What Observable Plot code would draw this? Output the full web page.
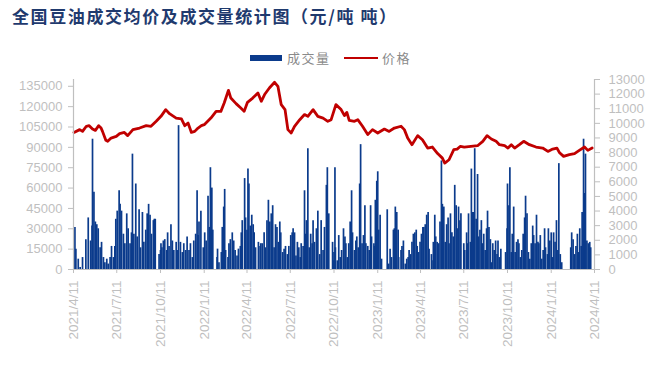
<!DOCTYPE html>
<html><head><meta charset="utf-8">
<script src="https://cdn.jsdelivr.net/npm/d3@7"></script>
<script src="https://cdn.jsdelivr.net/npm/@observablehq/plot@0.6"></script>
<style>
body{margin:0;background:#fff;}
#wrap{position:relative;width:649px;height:369px;overflow:hidden;background:#fff;}
#title{position:absolute;left:12px;top:5px;font-family:"Noto Sans CJK SC";font-weight:bold;font-size:17px;line-height:22px;color:#1f3a6e;letter-spacing:1.6px;white-space:nowrap;}
.lt{position:absolute;top:49px;font-family:"Noto Sans CJK SC";font-size:13px;line-height:18px;color:#8a8a8a;letter-spacing:1.5px;white-space:nowrap;}
.sw{position:absolute;}
#chart{position:absolute;left:0;top:0;}
</style></head>
<body><div id="wrap">
<div id="chart"></div>
<div id="title">全国豆油成交均价及成交量统计图（元/吨 吨）</div>
<div class="sw" style="left:250px;top:55px;width:32px;height:6px;background:#0b3b8c"></div>
<div class="lt" style="left:287px">成交量</div>
<div class="sw" style="left:344px;top:57px;width:34px;height:2px;background:#c00000"></div>
<div class="lt" style="left:382px">价格</div>
</div>
<script>
// ---- data ----
const xTickLabels = ["2021/4/11","2021/7/11","2021/10/11","2022/1/11","2022/4/11","2022/7/11","2022/10/11","2023/1/11","2023/4/11","2023/7/11","2023/10/11","2024/1/11","2024/4/11"];
const volumeTicks = [0,15000,30000,45000,60000,75000,90000,105000,120000,135000];
const priceTicks = [0,1000,2000,3000,4000,5000,6000,7000,8000,9000,10000,11000,12000,13000];

const priceDates = ["210412","210424","210430","210508","210514","210521","210527","210603","210608","210611","210618","210622","210629","210710","210717","210727","210803","210814","210828","210911","210921","211002","211012","211022","211030","211113","211124","211201","211208","211215","211222","211229","220105","220111","220125","220205","220215","220222","220303","220308","220319","220329","220405","220412","220423","220504","220511","220518","220528","220608","220615","220622","220630","220706","220713","220720","220731","220810","220817","220828","220907","220918","220928","221005","221015","221026","221102","221107","221112","221123","221130","221210","221221","221231","230111","230125","230204","230215","230301","230308","230315","230324","230405","230415","230426","230506","230517","230527","230601","230610","230620","230627","230704","230712","230726","230809","230820","230829","230907","230917","230924","231005","231012","231019","231026","231105","231114","231126","231210","231224","240104","240114","240123","240128","240206","240218","240229","240310","240321","240328","240406"];
const prices = [9380,9570,9450,9800,9840,9610,9520,9840,9680,9450,8840,8770,8990,9110,9300,9380,9160,9570,9680,9840,9800,10140,10480,10940,10660,10360,10300,9840,10020,9380,9450,9680,9840,9910,10360,10820,10820,11390,12260,11730,11350,11050,10820,11440,11730,12080,11510,11970,12420,12810,12530,11280,10940,9570,9340,9800,10250,10600,10480,10940,10480,10360,10140,10250,11280,10940,10530,10750,10200,10140,10250,9800,9230,9570,9340,9610,9450,9680,9800,9570,8990,8540,9160,8880,8310,8380,7930,7620,7280,7510,8200,8240,8430,8380,8430,8470,8770,9160,8930,8770,8540,8470,8310,8540,8310,8540,8770,8540,8380,8310,8080,8240,8310,8010,7740,7860,7930,8150,8380,8150,8310];

const volumeDates = ["210414","210416","210421","210425","210430","210507","210512","210517","210520","210521","210524","210527","210530","210602","210606","210609","210613","210616","210620","210623","210627","210630","210704","210707","210709","210712","210716","210718","210721","210725","210728","210801","210804","210808","210811","210813","210816","210820","210823","210827","210830","210903","210906","210910","210913","210916","210919","210922","210926","210928","210930","211008","211011","211012","211014","211017","211020","211024","211026","211029","211102","211105","211108","211113","211115","211118","211122","211126","211129","211203","211206","211210","211213","211217","211220","211224","211227","211229","211231","220104","220109","220112","220115","220119","220122","220124","220127","220129","220207","220208","220211","220216","220218","220221","220223","220225","220302","220304","220307","220311","220314","220317","220321","220324","220328","220330","220401","220406","220408","220411","220413","220415","220418","220421","220424","220426","220429","220505","220506","220510","220513","220517","220520","220523","220526","220529","220601","220604","220607","220610","220613","220616","220619","220621","220625","220628","220701","220705","220708","220712","220715","220717","220720","220723","220726","220729","220801","220803","220807","220810","220812","220814","220817","220820","220823","220826","220828","220831","220904","220907","220911","220914","220918","220921","220925","220927","220930","221008","221010","221011","221013","221014","221018","221021","221024","221027","221031","221103","221105","221108","221111","221114","221117","221119","221123","221126","221128","221201","221204","221206","221209","221212","221215","221217","221221","221224","221227","221229","230103","230104","230106","230109","230111","230113","230116","230119","230131","230203","230206","230209","230213","230215","230217","230220","230223","230224","230301","230303","230306","230310","230313","230316","230318","230321","230324","230327","230330","230402","230404","230407","230410","230413","230416","230418","230421","230424","230427","230429","230504","230505","230508","230511","230513","230516","230519","230522","230525","230527","230530","230602","230605","230608","230610","230613","230616","230619","230622","230625","230627","230630","230703","230705","230711","230713","230717","230719","230721","230725","230727","230729","230801","230803","230806","230809","230811","230814","230817","230819","230822","230825","230828","230830","230902","230905","230908","230910","230913","230916","230919","230921","230924","230927","231007","231010","231011","231014","231016","231019","231021","231024","231027","231030","231102","231104","231107","231110","231113","231116","231118","231121","231124","231127","231130","231203","231205","231208","231211","231214","231216","231219","231222","231225","231228","231230","240103","240105","240108","240111","240113","240116","240119","240122","240125","240127","240130","240202","240221","240223","240226","240229","240303","240306","240308","240311","240314","240316","240319","240321","240323","240326","240329","240401","240403"];
const volumes = [31000,15000,7600,1500,8800,22000,38000,21000,32000,96000,57000,35000,33000,30000,16000,20000,8800,5000,7600,4000,8800,17000,8800,17000,37000,43000,58000,48000,43000,26000,19000,41000,30000,19000,27000,85000,26000,63000,24000,44000,16000,42000,20000,29000,41000,48000,40000,26000,36000,37000,37000,11000,14000,19000,16000,21000,22000,14000,27000,17000,33000,21000,14000,20000,14000,106000,20000,12500,19000,14000,24000,14000,19000,8800,21000,26000,58000,25000,35000,43000,16000,27000,21000,54000,31000,75000,60000,29000,8800,15000,5000,12500,31000,46000,59000,14000,8800,19000,22000,27000,21000,14000,10000,15000,17000,27000,36000,67000,38000,29000,74000,63000,32000,40000,33000,27000,16000,20000,17000,19000,19000,27000,16000,36000,51000,35000,41000,47000,16000,33000,31000,20000,35000,27000,12500,15000,17000,11000,17000,25000,27000,30000,27000,10000,20000,16000,8800,19000,17000,58000,26000,36000,89000,16000,26000,19000,36000,20000,30000,43000,11000,36000,14000,31000,62000,75000,41000,20000,6400,12500,75000,16000,6400,25000,8800,14000,30000,24000,19000,8800,19000,35000,58000,27000,14000,21000,24000,16000,63000,92000,19000,25000,47000,19000,17000,14000,47000,24000,19000,17000,51000,65000,72000,29000,40000,7600,44000,4000,15000,8800,29000,30000,46000,42000,29000,8800,14000,17000,21000,4000,7600,8800,14000,11000,20000,26000,27000,29000,17000,12500,20000,26000,31000,31000,33000,40000,42000,15000,11000,6400,20000,40000,24000,20000,19000,35000,80000,48000,46000,20000,33000,38000,19000,41000,27000,24000,62000,47000,30000,46000,36000,41000,19000,14000,27000,19000,41000,20000,74000,42000,42000,89000,37000,70000,24000,29000,36000,19000,26000,14000,30000,43000,31000,22000,5000,19000,14000,21000,11000,21000,8800,15000,12500,30000,63000,47000,75000,12500,26000,46000,12500,20000,22000,19000,8800,14000,26000,38000,54000,41000,12500,7600,19000,32000,25000,19000,40000,20000,19000,25000,7600,14000,30000,16000,11000,30000,21000,27000,8800,27000,20000,36000,14000,78000,11000,5000,16000,27000,22000,11000,17000,26000,12500,30000,17000,42000,96000,56000,85000,21000,19000,20000,16000];

// ---- chart ----
const parse = d3.utcParse("%y%m%d");
const parseTick = d3.utcParse("%Y/%m/%d");
const volMax = 140000, priceMax = 13000, K = volMax / priceMax;
const volData = volumeDates.map((d, i) => ({date: parse(d), v: volumes[i]}));
const priceData = priceDates.map((d, i) => ({date: parse(d), y: prices[i] * K}));
const xTicks = xTickLabels.map(parseTick);
const xStart = xTicks[0], xEnd = xTicks[xTicks.length - 1];
const fmtDate = d => `${d.getUTCFullYear()}/${d.getUTCMonth() + 1}/${d.getUTCDate()}`;
const axisColor = "#bfbfbf";
const font = "'Liberation Sans', Arial, sans-serif";

const chart = Plot.plot({
  width: 649, height: 369,
  marginLeft: 73, marginRight: 55, marginTop: 79, marginBottom: 100,
  style: {fontFamily: font, background: "transparent", color: axisColor},
  x: {type: "utc", domain: [xStart, xEnd]},
  y: {domain: [0, volMax]},
  marks: [
    Plot.ruleX(volData, {x: "date", y1: 0, y2: "v", stroke: "#0b3b8c", strokeWidth: 1.7}),
    Plot.line(priceData, {x: "date", y: "y", stroke: "#c00000", strokeWidth: 2.8, strokeLinejoin: "round"}),
    Plot.ruleY([0], {stroke: axisColor, strokeWidth: 1.2}),
    Plot.ruleX([xStart, xEnd], {y1: 0, y2: volMax, stroke: axisColor, strokeWidth: 1.2}),
    Plot.axisY(volumeTicks, {anchor: "left", tickSize: 5, tickPadding: 6, fontSize: 13, label: null, stroke: axisColor, fill: axisColor, tickFormat: d => String(d)}),
    Plot.axisY(priceTicks.map(p => p * K), {anchor: "right", tickSize: 5, tickPadding: 9, fontSize: 13, label: null, stroke: axisColor, fill: axisColor, tickFormat: d => String(Math.round(d / K))}),
    Plot.axisX(xTicks, {anchor: "bottom", tickSize: 4, tickPadding: 7, tickRotate: -90, fontSize: 13.5, label: null, stroke: axisColor, fill: axisColor, tickFormat: fmtDate})
  ]
});
document.getElementById("chart").appendChild(chart);
</script>
</body></html>
